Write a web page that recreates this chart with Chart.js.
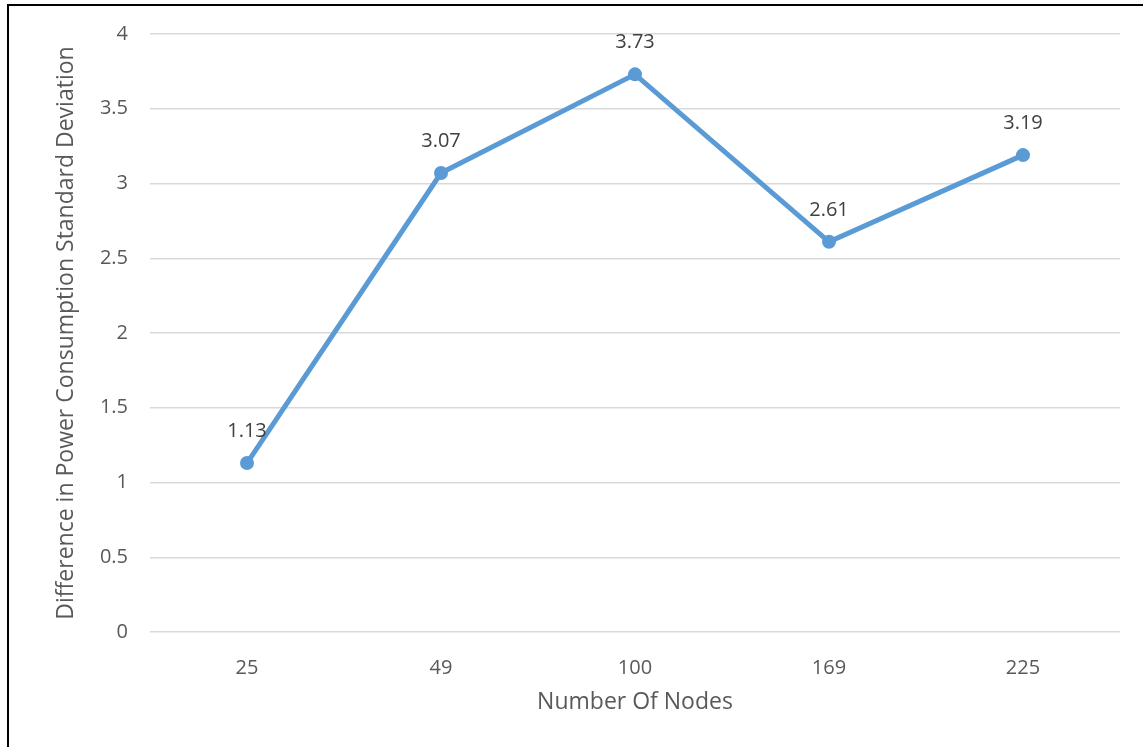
<!DOCTYPE html>
<html>
<head>
<meta charset="utf-8">
<script src="https://cdn.jsdelivr.net/npm/chart.js@4"></script>
<style>
    body { margin: 0; background: #fff; }
    #wrap { position: relative; width: 1143px; height: 747px; overflow: hidden; }
    #frame { position: absolute; left: 7px; top: 4px; width: 1200px; height: 800px;
             border-left: 2px solid #000; border-top: 2px solid #000; pointer-events: none; }
    canvas { position: absolute; left: 0; top: 0; }
</style>
</head>
<body>
<div id="wrap">
    <canvas id="mainChart" width="1143" height="747"></canvas>
    <div id="frame"></div>
</div>
<script>
// chart data
const nodes = ["25", "49", "100", "169", "225"];
const stdDiff = [1.13, 3.07, 3.73, 2.61, 3.19];
const yTicks = [0, 0.5, 1, 1.5, 2, 2.5, 3, 3.5, 4];

const FONT = "'Open Sans', 'Noto Sans', sans-serif";

// value labels above each point
const pointLabels = {
    id: "pointLabels",
    afterDatasetsDraw(chart) {
        const ctx = chart.ctx;
        const meta = chart.getDatasetMeta(0);
        ctx.save();
        ctx.font = "20px " + FONT;
        ctx.fillStyle = "#404040";
        ctx.textAlign = "center";
        ctx.textBaseline = "middle";
        meta.data.forEach((pt, i) => {
            ctx.fillText(stdDiff[i].toFixed(2), pt.x, pt.y - 32);
        });
        ctx.restore();
    }
};

const ctx = document.getElementById("mainChart").getContext("2d");
new Chart(ctx, {
    type: "line",
    data: {
        labels: nodes,
        datasets: [{
            data: stdDiff,
            borderColor: "#5B9BD5",
            backgroundColor: "#5B9BD5",
            borderWidth: 5,
            pointRadius: 7,
            pointBorderWidth: 0,
            tension: 0
        }]
    },
    options: {
        responsive: false,
        animation: false,
        layout: { padding: { top: 34, right: 23, bottom: 20, left: 40 } },
        plugins: {
            legend: { display: false },
            tooltip: { enabled: false }
        },
        scales: {
            x: {
                offset: true,
                grid: { display: false },
                border: { display: false },
                ticks: { color: "#595959", font: { family: FONT, size: 20 }, padding: 16 },
                title: {
                    display: true,
                    text: "Number Of Nodes",
                    color: "#595959",
                    font: { family: FONT, size: 23 },
                    padding: { top: 0, bottom: 11 }
                },
                afterFit(scale) { scale.height = 747 - 20 - 632; }
            },
            y: {
                min: 0,
                max: 4,
                afterBuildTicks(scale) { scale.ticks = yTicks.map(v => ({ value: v })); },
                grid: { color: "#d9d9d9", lineWidth: 1.5, drawTicks: false },
                border: { display: false },
                ticks: {
                    color: "#595959",
                    font: { family: FONT, size: 20 },
                    padding: 22,
                    callback: v => String(v)
                },
                title: {
                    display: true,
                    text: "Difference in Power Consumption Standard Deviation",
                    color: "#595959",
                    font: { family: FONT, size: 23 },
                    padding: { top: 13, bottom: 0 }
                },
                afterFit(scale) { scale.width = 150 - 40; }
            }
        }
    },
    plugins: [pointLabels]
});
</script>
</body>
</html>
